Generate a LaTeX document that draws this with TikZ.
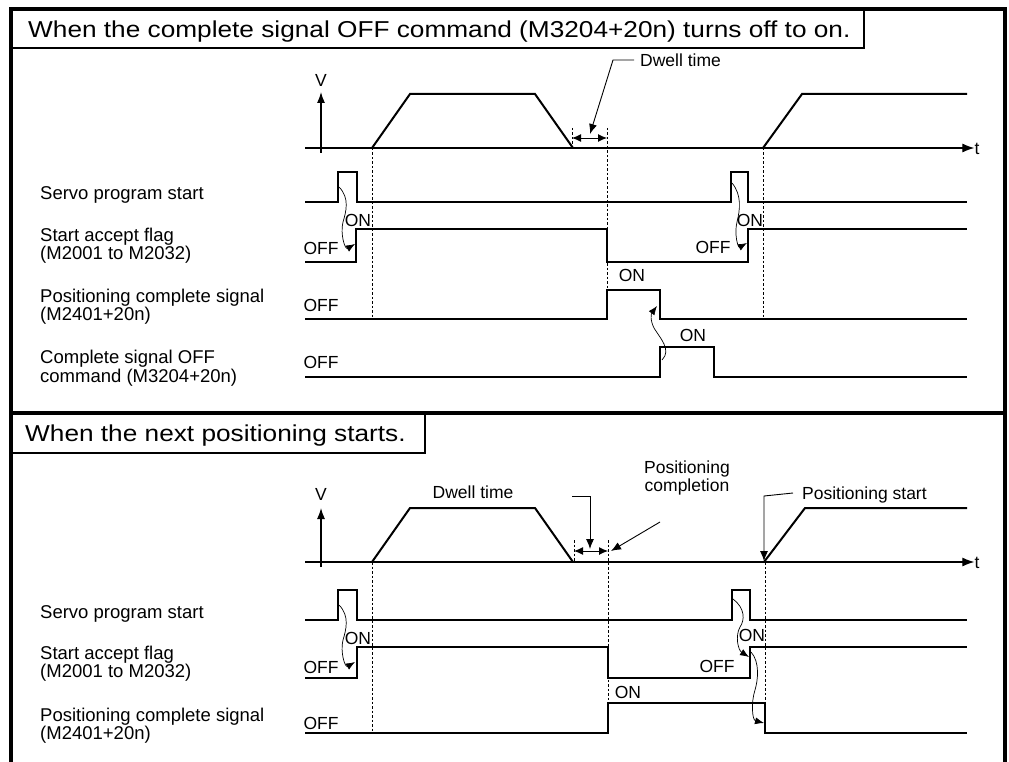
\documentclass[tikz,border=0pt]{standalone}
\usepackage{fontspec}
\setmainfont{Liberation Sans}
\newfontfamily\titlefont[FakeStretch=1.14]{Liberation Sans}
\usetikzlibrary{arrows.meta}
\begin{document}
\begin{tikzpicture}[x=1pt,y=-1pt,
  sig/.style={line width=2pt, line join=miter},
  axis/.style={line width=1.2pt},
  trap/.style={line width=2pt},
  dsh/.style={line width=0.8pt, dash pattern=on 2.5pt off 2pt},
  lead/.style={line width=0.9pt},
  tip/.style={-{Latex[length=11pt,width=8pt]}},
  dbl/.style={{Latex[length=9pt,width=8pt]}-{Latex[length=9pt,width=8pt]}},
  wav/.style={line width=0.7pt,-{Latex[length=9pt,width=7pt]}},
  lbl/.style={font=\fontsize{18.5}{19}\selectfont, anchor=west, inner sep=0pt, text height=13.2pt, text depth=0pt},
  sm/.style={font=\fontsize{17.5}{18}\selectfont, inner sep=0pt, text height=12.5pt, text depth=0pt},
  ttl/.style={font=\titlefont\fontsize{23}{26}\selectfont, anchor=west, inner sep=0pt, text height=16.5pt, text depth=0pt},
  frame/.style={line width=4pt},
  tbox/.style={line width=2.2pt},
]
\useasboundingbox (0,0) rectangle (1009,762);
% frame
\draw[frame] (11,763) -- (11,9.5) -- (1005,9.5) -- (1005,763);
\draw[frame] (11,413) -- (1005,413);
\draw[tbox] (11,48) -- (864,48) -- (864,9.5);
\draw[tbox] (11,453) -- (425,453) -- (425,413);
\node[ttl] (t1) at (28,29) {When the complete signal OFF command (M3204+20n) turns off to on.};
\node[ttl] (t2) at (25,433) {When the next positioning starts.};

% ===== Section 1 =====
\node[sm] (v1) at (321,80) {V};
\draw[axis,tip] (321,153) -- (321,92);
\node[sm] (tt1) at (977,148) {t};
\draw[axis,-{Latex[length=12pt,width=9pt]}] (305,148) -- (tt1.west);
\draw[trap] (372,148) -- (410,94) -- (535,94) -- (573,148);
\draw[trap] (763,148) -- (802,94) -- (967,94);
\draw[dsh] (372,148) -- (372,319);
\draw[dsh] (572,128) -- (572,148);
\draw[dsh] (607,128) -- (607,290);
\draw[dsh] (763,148) -- (763,319);
\draw[lead,dbl] (572,138) -- (607,138);
\node[sm,anchor=west] (dw1) at (640,60) {Dwell time};
\draw[lead,-{Latex[length=10pt,width=8pt]}] ([xshift=-6pt]dw1.west) -- (613,60) -- (590,134);

\node[lbl] (l1a) at (40,193) {Servo program start};
\node[lbl] (l1b) at (40,235) {Start accept flag};
\node[lbl] (l1c) at (40,253) {(M2001 to M2032)};
\node[lbl] (l1d) at (40,296) {Positioning complete signal};
\node[lbl] (l1e) at (40,314) {(M2401+20n)};
\node[lbl] (l1f) at (40,357) {Complete signal OFF};
\node[lbl] (l1g) at (40,376) {command (M3204+20n)};

\draw[sig] (305,202) -- (338,202) -- (338,172) -- (357,172) -- (357,202) -- (731,202) -- (731,172) -- (748,172) -- (748,202) -- (967,202);
\draw[sig] (305,262) -- (356,262) -- (356,229) -- (607,229) -- (607,262) -- (748,262) -- (748,229) -- (967,229);
\draw[sig] (305,319) -- (607,319) -- (607,290) -- (660,290) -- (660,319) -- (967,319);
\draw[sig] (305,377) -- (660,377) -- (660,347) -- (714,347) -- (714,377) -- (967,377);

\node[sm] (o1) at (321,248) {OFF};
\node[sm] (n1) at (358,220) {ON};
\node[sm] (o2) at (321,305) {OFF};
\node[sm] (n2) at (632,275) {ON};
\node[sm] (o3) at (321,362) {OFF};
\node[sm] (n3) at (693,335) {ON};
\node[sm] (o4) at (713,247) {OFF};
\node[sm] (n4) at (750,220) {ON};

\draw[wav] (339,187) .. controls (350,198) and (346,212) .. (343,222) .. controls (340,234) and (345,250) .. (355,244);
\draw[wav] (732,183) .. controls (742,195) and (740,210) .. (737,222) .. controls (734,234) and (738,248) .. (747,243);
\draw[wav] (662,360) .. controls (672,350) and (660,338) .. (654,328) .. controls (650,320) and (651,314) .. (657,306);

% ===== Section 2 =====
\node[sm] (v2) at (321,494) {V};
\draw[axis,tip] (321,567) -- (321,508);
\node[sm] (tt2) at (977,562) {t};
\draw[axis,-{Latex[length=12pt,width=9pt]}] (305,562) -- (tt2.west);
\draw[trap] (372,562) -- (410,508) -- (535,508) -- (573,562);
\draw[trap] (764,562) -- (805,508) -- (967,508);
\draw[dsh] (372,562) -- (372,733);
\draw[dsh] (574,540) -- (574,562);
\draw[dsh] (608,540) -- (608,703);
\draw[dsh] (765,562) -- (765,703);
\draw[lead,dbl] (574,551) -- (608,551);
\node[sm] (dw2) at (473,492) {Dwell time};
\coordinate (b2) at (572,496);
\draw[lead,-{Latex[length=10pt,width=8pt]}] (b2) -- (590,496) -- (590,549);
\node[sm,align=center,font=\fontsize{17.5}{17.5}\selectfont,text height=12.5pt] (pc) at (687,485) {Positioning\\completion};
\draw[lead,-{Latex[length=10pt,width=8pt]}] (660,522) -- (611,551);
\node[sm,anchor=west] (ps) at (802,493) {Positioning start};
\draw[lead,-{Latex[length=10pt,width=8pt]}] ([xshift=-9pt]ps.west) -- (764,496) -- (764,561);

\node[lbl] (l2a) at (40,612) {Servo program start};
\node[lbl] (l2b) at (40,653) {Start accept flag};
\node[lbl] (l2c) at (40,671) {(M2001 to M2032)};
\node[lbl] (l2d) at (40,715) {Positioning complete signal};
\node[lbl] (l2e) at (40,733) {(M2401+20n)};

\draw[sig] (305,620) -- (338,620) -- (338,590) -- (357,590) -- (357,620) -- (732,620) -- (732,590) -- (750,590) -- (750,620) -- (967,620);
\draw[sig] (305,678) -- (357,678) -- (357,647) -- (608,647) -- (608,678) -- (750,678) -- (750,647) -- (967,647);
\draw[sig] (305,733) -- (608,733) -- (608,703) -- (765,703) -- (765,733) -- (967,733);

\node[sm] (o5) at (321,667) {OFF};
\node[sm] (n5) at (358,638) {ON};
\node[sm] (o6) at (717,666) {OFF};
\node[sm] (n6) at (752,635) {ON};
\node[sm] (n7) at (628,692) {ON};
\node[sm] (o7) at (321,723) {OFF};

\draw[wav] (339,605) .. controls (350,616) and (346,630) .. (343,640) .. controls (340,652) and (345,668) .. (355,662);
\draw[wav] (733,599) .. controls (745,608) and (745,620) .. (740,627) .. controls (735,636) and (738,650) .. (749,657);
\draw[wav] (751,652) .. controls (760,662) and (758,680) .. (755,690) .. controls (751,702) and (752,720) .. (764,723);
\end{tikzpicture}
\end{document}
